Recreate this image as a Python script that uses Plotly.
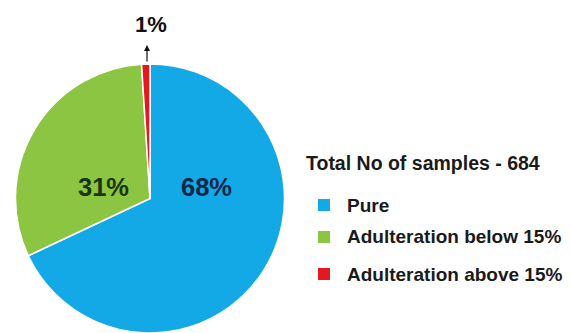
import plotly.graph_objects as go

# ---- data ----
labels = ["Pure", "Adulteration below 15%", "Adulteration above 15%"]
values = [68, 31, 1]
colors = ["#13a9e6", "#8cc541", "#e5171f"]
legend_title = "Total No of samples - 684"

W, H = 571, 333
FONT = "Liberation Sans, Arial, sans-serif"

total = sum(values)
pct = [f"{v / total * 100:.0f}%" for v in values]

fig = go.Figure()
fig.add_trace(go.Pie(
    labels=labels,
    values=values,
    sort=False,
    direction="clockwise",
    rotation=0,
    marker=dict(colors=colors, line=dict(color="white", width=1.5)),
    textinfo="none",
    hoverinfo="label+percent",
    showlegend=False,
    domain=dict(x=[15.5 / W, 284.5 / W], y=[0, 269 / H]),
))

def px(x):
    return x / W

def py(y):
    return 1 - y / H

annotations = []
# slice labels
label_pos = [(206, 187, "#0d2748", 25.5), (103, 187, "#1b3511", 25.5), (151, 24, "#111111", 22)]
for (x, y, c, s), t in zip(label_pos, pct):
    annotations.append(dict(x=px(x), y=py(y), xref="paper", yref="paper",
                            text=f"<b>{t}</b>", showarrow=False,
                            font=dict(family=FONT, size=s, color=c),
                            xanchor="center", yanchor="middle"))
# arrow for small slice
annotations.append(dict(x=px(147), y=py(45), xref="paper", yref="paper",
                        text="", showarrow=True, ax=0, ay=18,
                        arrowhead=2, arrowsize=1, arrowwidth=1.2, arrowcolor="#111111"))

# manual legend
annotations.append(dict(x=px(304), y=py(163), xref="paper", yref="paper",
                        text=f"<b>{legend_title}</b>", showarrow=False,
                        font=dict(family=FONT, size=19.5, color="#1a1a1a"),
                        xanchor="left", yanchor="middle"))
shapes = []
item_y = [205, 237, 274]
for lab, col, y in zip(labels, colors, item_y):
    shapes.append(dict(type="rect", xref="paper", yref="paper",
                       x0=px(318), x1=px(330), y0=py(y - 6), y1=py(y + 6),
                       fillcolor=col, line=dict(width=0)))
    annotations.append(dict(x=px(345), y=py(y), xref="paper", yref="paper",
                            text=f"<b>{lab}</b>", showarrow=False,
                            font=dict(family=FONT, size=19, color="#1a1a1a"),
                            xanchor="left", yanchor="middle"))

fig.update_layout(
    width=W, height=H,
    margin=dict(l=0, r=0, t=0, b=0),
    paper_bgcolor="white",
    plot_bgcolor="white",
    annotations=annotations,
    shapes=shapes,
)

fig.write_html("out.html")
